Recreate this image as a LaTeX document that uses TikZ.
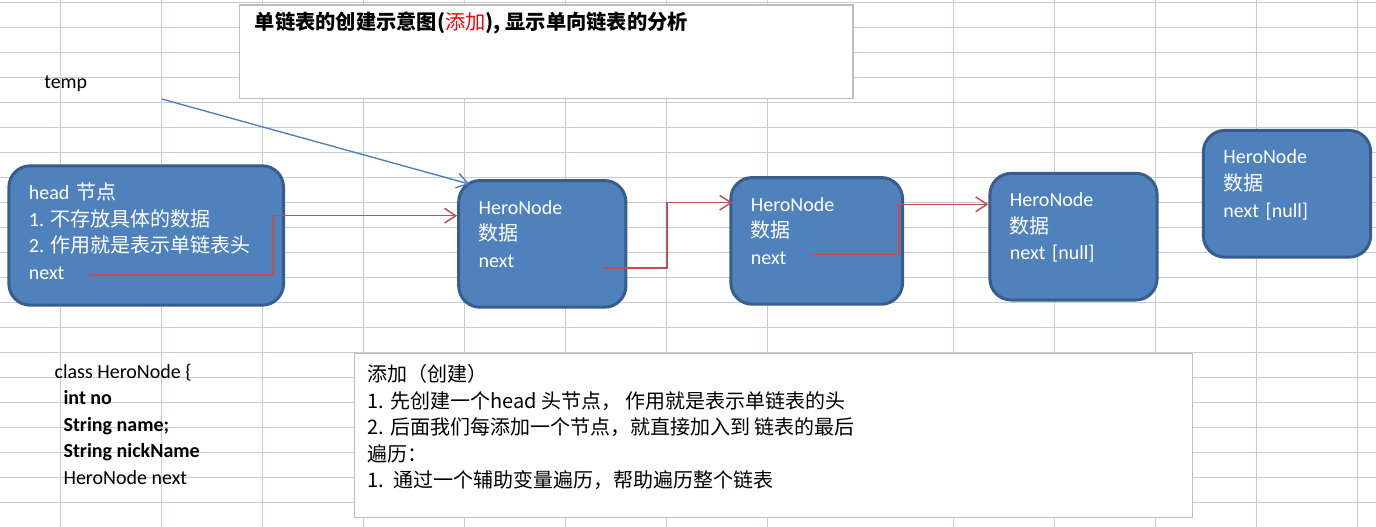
\documentclass[tikz,border=0pt]{standalone}
\usepackage{fontspec}
\setmainfont{Carlito}
\newfontfamily\notefont{Noto Sans CJK SC}
\newcommand\zh[1]{{\notefont #1}}
\usepackage{tikz}
\usetikzlibrary{
  arrows.meta,
  positioning,
  calc,
}
\definecolor{nodefill}{RGB}{79,129,189}
\definecolor{nodeline}{RGB}{56,93,138}
\definecolor{linkred}{RGB}{192,80,77}
\definecolor{ptrblue}{RGB}{74,126,187}
\definecolor{gridgray}{RGB}{197,203,221}
\definecolor{boxgray}{RGB}{190,190,190}

\begin{document}
\begin{tikzpicture}[
  x=0.75pt, y=-0.75pt,
  gridline/.style={draw=gridgray, line width=0.75pt},
  listnode/.style={
    draw=nodeline, line width=2.25pt, fill=nodefill, rounded corners=16pt,
    text=white, font=\fontsize{15}{19.9}\selectfont, align=left,
    inner xsep=15pt, inner ysep=2pt, minimum height=95pt, text width=95.4pt,
  },
  textbox/.style={draw=boxgray, line width=1pt, fill=white, inner sep=0pt},
  plain/.style={font=\fontsize{15}{19.9}\selectfont, align=left, inner sep=0pt},
  link/.style={-{Straight Barb[length=8.5pt,width=11pt]}, draw=linkred, line width=1.1pt},
  pointer/.style={-{Straight Barb[length=8.5pt,width=11pt]}, draw=ptrblue, line width=1pt},
  elbow/.style={to path={-| ($(\tikztostart)!.5!(\tikztotarget)$) |- (\tikztotarget) \tikztonodes}},
]

% ── Spreadsheet grid ───────────────────────────────────────────────
\useasboundingbox (0,0) rectangle (1376,527);
\fill[white] (0,0) rectangle (1376,527);
\foreach \gx in {60,161,262,363,464,565,666,767,953,1054,1155,1256,1357}
  \draw[gridline] (\gx,0) -- (\gx,527);
\foreach \k in {0,...,20}
  \draw[gridline] (0,2.3+25*\k) -- (1376,2.3+25*\k);

% ── Text boxes ─────────────────────────────────────────────────────
\node[textbox, anchor=north west, minimum width=460pt, minimum height=70pt]
  (titlebox) at (239,4.3) {};
\node[anchor=west, inner sep=0pt, font=\fontsize{15.2}{18}\notefont\bfseries]
  (title) at (254.5,23.3)
  {单链表的创建示意图(\textcolor{red}{\mdseries 添加}), 显示单向链表的分析};

\node[textbox, anchor=north west, minimum width=628.5pt, minimum height=123pt]
  (notebox) at (353.7,352.7) {};
\node[anchor=north west, inner sep=0pt, align=left, font=\fontsize{15}{19.9}\notefont]
  (notes) at (367.4,364.3)
  {添加（创建）\\
   1. 先创建一个head 头节点， 作用就是表示单链表的头\\
   2. 后面我们每添加一个节点，就直接加入到 链表的最后\\
   遍历：\\
   1.\ \ 通过一个辅助变量遍历，帮助遍历整个链表};

% ── Class sketch and temp ──────────────────────────────────────────
\node[plain, anchor=north west] (code) at (54.3,363.5)
  {class HeroNode \{\\
   \hspace*{6.75pt}\textbf{int no}\\
   \hspace*{6.75pt}\textbf{String name;}\\
   \hspace*{6.75pt}\textbf{String nickName}\\
   \hspace*{6.75pt}HeroNode next};
\node[plain, anchor=west] (temp) at (44,84) {temp};

% ── List nodes ─────────────────────────────────────────────────────
\node[listnode, text width=176pt, minimum height=104.5pt] (head) at (146.2,235.5)
  {head~\zh{节点}\\1.~\zh{不存放具体的数据}\\2.~\zh{作用就是表示单链表头}\\next\\[-13.5pt]\mbox{}};
\node[listnode] (n1) at (542.3,243.9)
  {HeroNode\\\zh{数据}\\next\\[-4.5pt]\mbox{}};
\node[listnode, text width=98.8pt] (n2) at (816.7,240.9)
  {HeroNode\\\zh{数据}\\next\\[-4.5pt]\mbox{}};
\node[listnode] (n3) at (1073.5,236.7)
  {HeroNode\\\zh{数据}\\next~[null]\\[-4.5pt]\mbox{}};
\node[listnode] (n4) at (1287,193.8)
  {HeroNode\\\zh{数据}\\next~[null]\\[-4.5pt]\mbox{}};

% ── Connectors ─────────────────────────────────────────────────────
\coordinate (tempptr) at (161.7,99);
\coordinate (hnext) at (89,275);
\coordinate (n1next) at (602,268);
\coordinate (n2next) at (810,254.3);
\coordinate (n1in) at ($(n1.west)+(0,-28.2)$);
\coordinate (n2in) at ($(n2.west)+(3,-38.2)$);
\coordinate (n3in) at ($(n3.west)+(0,-32.4)$);

\draw[pointer] (tempptr) -- ($(n1.north west)+(12.2,5)$);
\draw[link] (hnext) to[elbow] (n1in);
\draw[link] (n1next) to[elbow] (n2in);
\draw[link] (n2next) to[elbow] (n3in);

\end{tikzpicture}
\end{document}
